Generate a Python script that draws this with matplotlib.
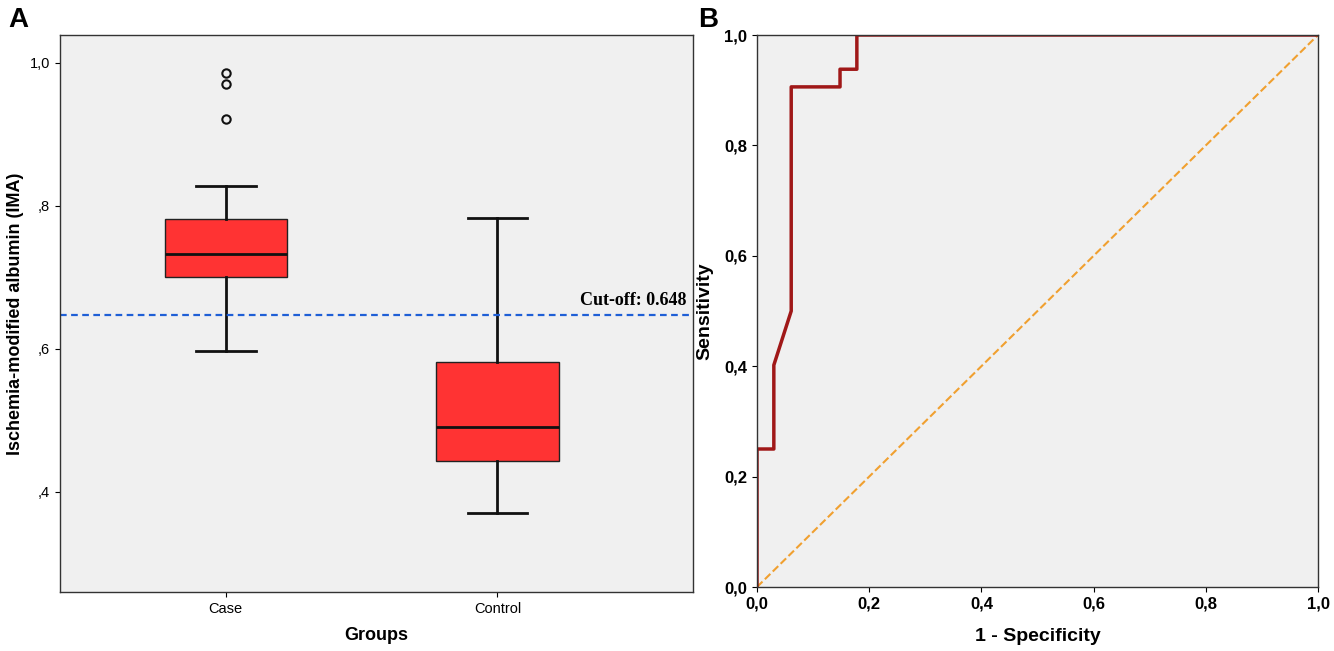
import matplotlib
matplotlib.use("Agg")
import matplotlib.pyplot as plt
from matplotlib.ticker import FuncFormatter

plt.rcParams['font.family'] = ['Liberation Sans', 'DejaVu Sans']

# box plot summaries
groups = ['Case', 'Control']
whisk_lo = [0.597, 0.371]
q1 = [0.700, 0.443]
med = [0.733, 0.491]
q3 = [0.782, 0.582]
whisk_hi = [0.828, 0.783]
fliers = [[0.986, 0.971, 0.922], []]
cutoff = 0.648

# ROC curve
fpr = [0.0, 0.0, 0.030, 0.030, 0.061, 0.061, 0.148, 0.148, 0.178, 0.178, 1.0]
tpr = [0.0, 0.25, 0.25, 0.402, 0.50, 0.906, 0.906, 0.938, 0.938, 1.0, 1.0]

comma2 = FuncFormatter(lambda v, p: ('%.1f' % v).replace('.', ','))

fig = plt.figure(figsize=(13.34, 6.51), dpi=100)
ax1 = fig.add_axes([60/1334, 1-592/651, 633/1334, 557/651])
ax2 = fig.add_axes([757/1334, 1-587/651, 561/1334, 552/651])

for ax in (ax1, ax2):
    ax.set_facecolor('#f0f0f0')
    for s in ax.spines.values():
        s.set_color('#333333')
        s.set_linewidth(1)

stats = []
for i, g in enumerate(groups):
    stats.append(dict(label=g, whislo=whisk_lo[i], q1=q1[i], med=med[i], q3=q3[i],
                      whishi=whisk_hi[i], fliers=fliers[i]))
ax1.bxp(stats, positions=[1, 2], widths=0.45, patch_artist=True,
        boxprops=dict(facecolor='#ff3333', edgecolor='#222222', linewidth=1),
        medianprops=dict(color='#111111', linewidth=2),
        whiskerprops=dict(color='#111111', linewidth=2),
        capprops=dict(color='#111111', linewidth=2), capwidths=0.22,
        flierprops=dict(marker='o', markerfacecolor='none', markeredgecolor='#111111',
                        markersize=6, markeredgewidth=1.5))
ax1.axhline(cutoff, color='#1f5fd6', linestyle=(0, (3, 2)), linewidth=1.6)
ax1.text(2.5, cutoff + 0.008, 'Cut-off: 0.648', family=['Liberation Serif'], fontweight='bold',
         fontsize=13, ha='center', va='bottom')
ax1.set_xlim(0.39, 2.72)
ax1.set_ylim(0.26, 1.039)
ax1.set_yticks([0.4, 0.6, 0.8, 1.0])
ax1.yaxis.set_major_formatter(FuncFormatter(lambda v, p: '1,0' if v > 0.99 else (',%d' % round(v*10))))
ax1.tick_params(labelsize=10.5)
ax1.set_xlabel('Groups', fontsize=13, fontweight='bold', labelpad=8)
ax1.set_ylabel('Ischemia-modified albumin (IMA)', fontsize=13, fontweight='bold')

ax2.plot([0, 1], [0, 1], color='#f0a030', linestyle='--', linewidth=1.5)
ax2.plot(fpr, tpr, color='#a01818', linewidth=2.5)
ax2.set_xlim(0, 1)
ax2.set_ylim(0, 1)
ticks = [0, 0.2, 0.4, 0.6, 0.8, 1.0]
ax2.set_xticks(ticks)
ax2.set_yticks(ticks)
ax2.xaxis.set_major_formatter(comma2)
ax2.yaxis.set_major_formatter(comma2)
ax2.tick_params(labelsize=12)
for lab in ax2.get_xticklabels() + ax2.get_yticklabels():
    lab.set_fontweight('bold')
ax2.set_xlabel('1 - Specificity', fontsize=14, fontweight='bold', labelpad=12)
ax2.set_ylabel('Sensitivity', fontsize=14, fontweight='bold', labelpad=8)

fig.text(8/1334, 1-20/651, 'A', fontsize=20, fontweight='bold', va='center')
fig.text(698/1334, 1-20/651, 'B', fontsize=20, fontweight='bold', va='center')

fig.savefig('out.png', dpi=100, facecolor='white')
